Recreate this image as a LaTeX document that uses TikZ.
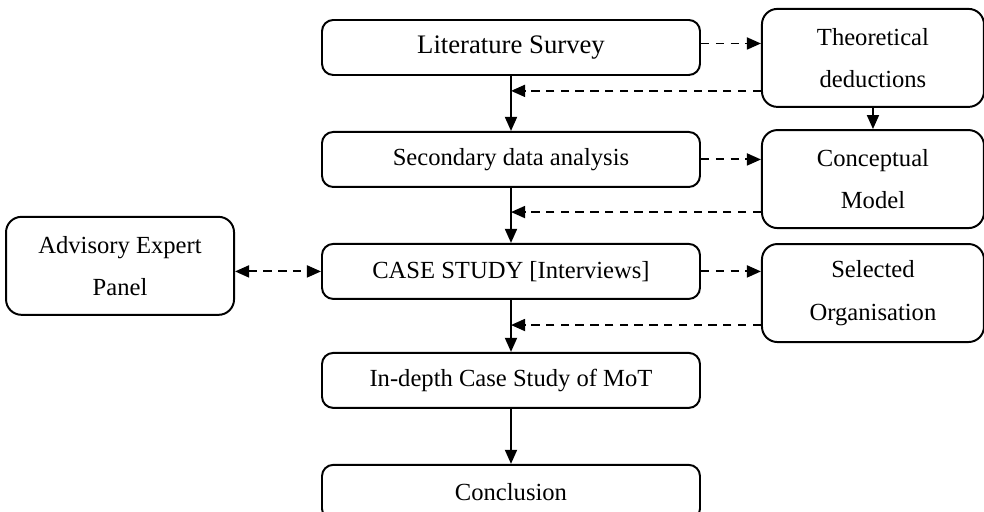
\documentclass[tikz,border=0pt]{standalone}
\usepackage{fontspec}
\setmainfont{Liberation Serif}
\usepackage{tikz}
\usetikzlibrary{positioning, arrows.meta}

\begin{document}
\begin{tikzpicture}[>={Triangle[length=10pt, width=8.5pt]}, node distance=1.375cm, line width=1.4pt,
    every node/.style={draw, rounded corners=8pt, font=\fontsize{17.5}{30}\selectfont},
    mainbox/.style={minimum width=9.45cm, minimum height=1.375cm},
    sidebox/.style={minimum width=5.55cm, minimum height=2.45cm, align=center, rounded corners=11pt},
    dasharrow/.style={->, dash pattern=on 6pt off 4.5pt}]
    \useasboundingbox (-12.775,1.1875) rectangle (11.825,-11.6125);

    % Main column
    \node[mainbox, font=\fontsize{19}{30}\selectfont] (ls) {Literature Survey};
    \node[mainbox, below=of ls] (sda) {Secondary data analysis};
    \node[mainbox, below=of sda] (cs) {CASE STUDY [Interviews]};
    \node[mainbox, below=1.3cm of cs] (ind) {In-depth Case Study of MoT};
    \node[mainbox, below=of ind] (con) {Conclusion};

    % Side boxes
    \node[sidebox, right=1.5cm of ls, yshift=-0.26cm] (td) {Theoretical\\deductions};
    \node[sidebox, right=1.5cm of sda, yshift=-0.49cm] (cm) {Conceptual\\Model};
    \node[sidebox, right=1.5cm of cs, yshift=-0.54cm] (so) {Selected\\Organisation};
    \node[sidebox, minimum width=5.7cm, left=2.15cm of cs, yshift=0.14cm] (aep) {Advisory Expert\\Panel};

    % Solid arrows
    \draw[->] (ls.south) -- (sda.north);
    \draw[->] (sda.south) -- (cs.north);
    \draw[->] (cs.south) -- (ind.north);
    \draw[->] (ind.south) -- (con.north);
    \draw[->] (td.south) -- (cm.north);

    % Dashed arrows out to the side boxes
    \coordinate (lso) at ([yshift=0.1cm]ls.east);
    \draw[dasharrow] (lso) -- (lso -| td.west);
    \draw[dasharrow] (sda.east) -- (sda.east -| cm.west);
    \draw[dasharrow] (cs.east) -- (cs.east -| so.west);
    \draw[dasharrow, <->] (cs.west -| aep.east) -- (cs.west);

    % Dashed arrows back to the main line
    \coordinate (tdo) at ([yshift=0.425cm]td.south west);
    \coordinate (cmo) at ([yshift=0.425cm]cm.south west);
    \coordinate (soo) at ([yshift=0.45cm]so.south west);
    \draw[dasharrow] (tdo) -- (tdo -| ls.south);
    \draw[dasharrow] (cmo) -- (cmo -| sda.south);
    \draw[dasharrow] (soo) -- (soo -| cs.south);
\end{tikzpicture}
\end{document}
